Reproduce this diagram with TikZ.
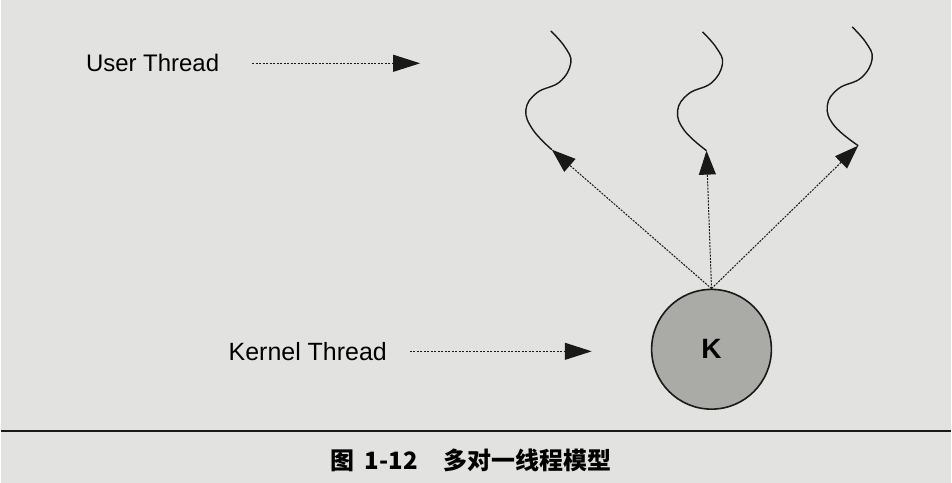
\documentclass[tikz,border=0pt]{standalone}
\usepackage{fontspec}
\setmainfont{Liberation Sans}
\newfontfamily\cjkfont{Noto Sans CJK SC}
\usetikzlibrary{positioning, arrows.meta}

\definecolor{paper}{RGB}{226,227,224}
\definecolor{kgray}{RGB}{170,170,167}

\begin{document}
\begin{tikzpicture}[
    x=1pt, y=-1pt,
    label/.style={inner sep=0pt, text=black, font=\fontsize{24}{28}\selectfont},
    pointer/.style={-{Triangle[length=27pt, width=17pt]}, line width=1.1pt, dash pattern=on 2pt off 1.5pt, draw=black!90},
    link/.style={-{Triangle[length=24pt, width=17pt]}, line width=1pt, dash pattern=on 2pt off 1.2pt, draw=black!90},
    wave/.style={line width=1.4pt, draw=black!90},
    kernel/.style={circle, draw=black!90, line width=1.6pt, fill=kgray, minimum size=120pt, inner sep=0pt, font=\fontsize{28}{32}\selectfont\bfseries},
    caption/.style={inner sep=0pt, text=black, font=\cjkfont\bfseries\fontsize{24}{28}\selectfont}
]

% Page background (fixes the picture size)
\fill[paper] (0,0) rectangle (952,484);

% Labels on the left
\node[label, anchor=base west] (ut) at (85,72) {User Thread};
\node[label, anchor=base west, font=\fontsize{25}{29}\selectfont] (kt) at (228,361) {Kernel Thread};
\coordinate (ut-tip) at (420,64);
\coordinate (kt-tip) at (592,354);

% The kernel thread
\node[kernel] (k) at (712,350) {K};

% Draw the user threads as wavy lines
\foreach \w/\x/\y/\d in {a/551/31/1, b/703/32/4, c/853/27/6}{
    \draw[wave] plot[smooth, tension=0.7] coordinates {(\x,\y) (\x+14,\y+16) (\x+20,\y+32) (\x+9,\y+51) (\x-14,\y+62) (\x-25,\y+79) (\x-18,\y+99) (\x+\d,\y+119)};
    \coordinate (end-\w) at (\x+\d,\y+119);
}

% Draw arrows from the labels
\draw[pointer, shorten <=33pt] (ut.east) -- (ut.east -| ut-tip);
\draw[pointer, shorten <=23pt] (kt.east) -- (kt.east -| kt-tip);

% Draw arrows from the kernel thread to every user thread
\foreach \w in {a,b,c}{
    \draw[link] (k.north) -- (end-\w);
}

% Rule and caption
\draw[line width=2pt, draw=black!90] (0,432) -- (952,432);
\node[caption] (cap) at (471,461) {图\hspace{10pt}1-12\hspace{26pt}多对一线程模型};

\end{tikzpicture}
\end{document}
